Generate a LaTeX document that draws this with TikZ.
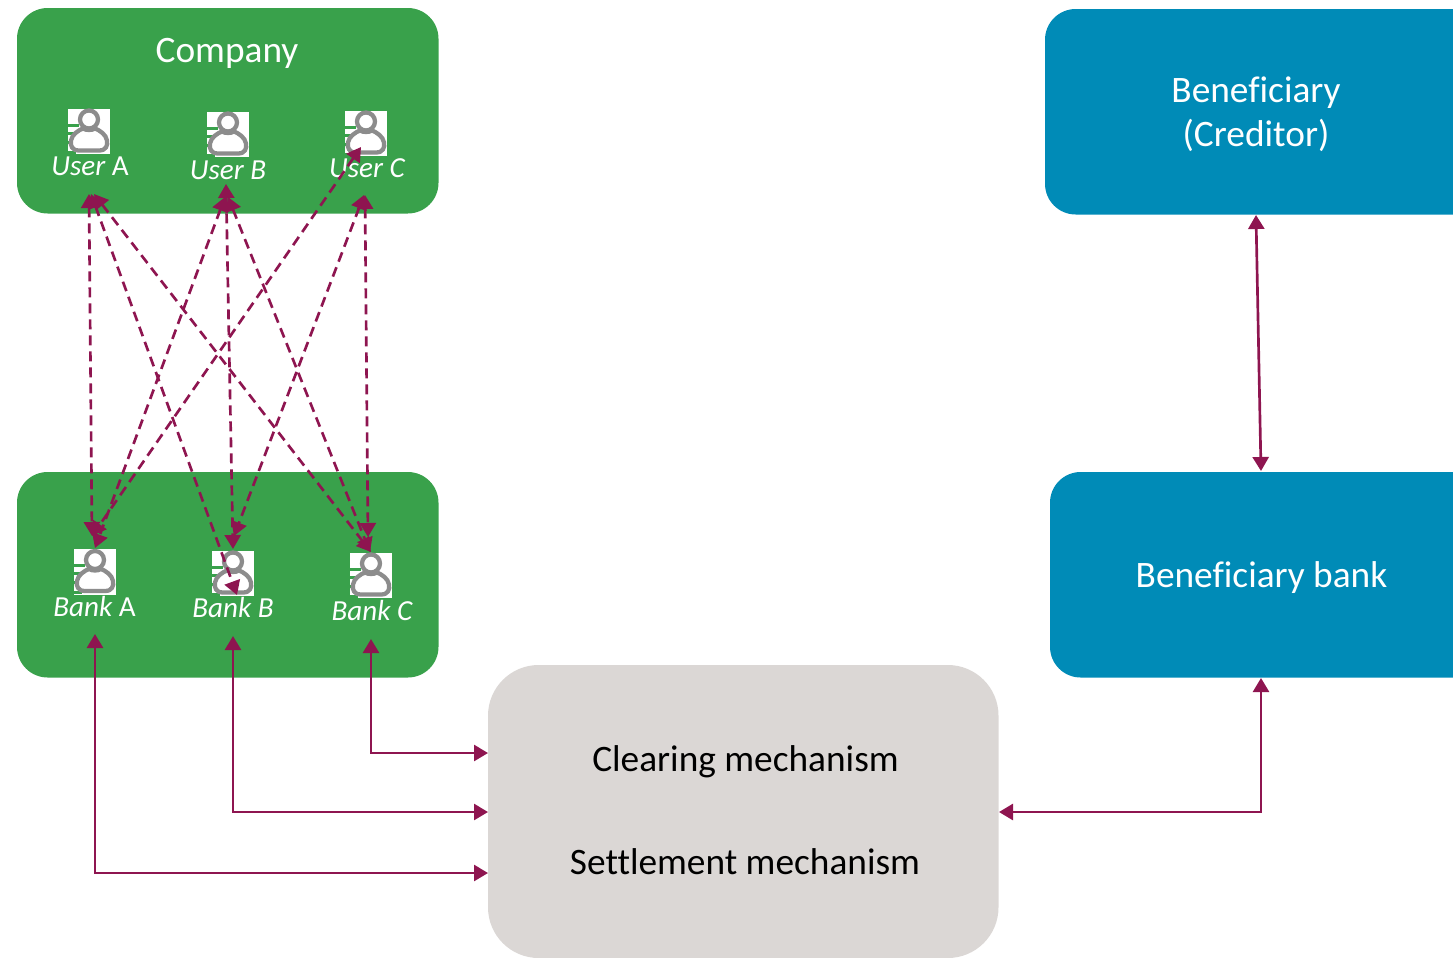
\documentclass[tikz,border=0pt]{standalone}
\usepackage{fontspec}
\setmainfont{Carlito}[Ligatures=NoCommon]
\usetikzlibrary{arrows.meta}
\definecolor{cgreen}{HTML}{39A14B}
\definecolor{cblue}{HTML}{008BB7}
\definecolor{cgrey}{HTML}{DBD7D5}
\definecolor{cline}{HTML}{8E1550}
\definecolor{cicon}{HTML}{8C8C8C}
\tikzset{
  x=0.75pt,y=-0.75pt,
  link/.style={draw=cline,line width=2pt,{Triangle[length=10.5pt,width=12pt]}-{Triangle[length=10.5pt,width=12pt]}},
  dlink/.style={link,dash pattern=on 7.5pt off 4.5pt,line width=2pt},
  iconbox/.style={fill=white,draw=none,minimum width=31.5pt,minimum height=34pt,inner sep=0pt,outer sep=0pt},
  role/.style={text=white,font=\fontsize{21.8}{26}\selectfont\itshape,inner sep=0pt},
  big/.style={font=\fontsize{28}{33}\selectfont,align=center,inner sep=0pt},
}
\newcommand{\personicon}[2]{%
  \node[iconbox] (#1) at (#2) {};
  \begin{scope}[shift={(#2)}]
    \fill[cgreen] (-21,-8) rectangle (-10,-5);
    \fill[cgreen] (-21,0) rectangle (-11,3);
    \fill[cgreen] (-21,9) rectangle (-16,12);
    \fill[cgreen] (-21,19) rectangle (-13,22);
    \draw[cicon,line width=3.2pt,fill=white] (0,-12) circle (9);
    \draw[cicon,line width=3.2pt,fill=white]
      (-10,19) .. controls (-17,19) and (-19,14) .. (-18,9)
      .. controls (-17,3) and (-11,-1) .. (-6,-3)
      .. controls (-3,-1) and (3,-1) .. (6,-3)
      .. controls (11,-1) and (17,3) .. (18,9)
      .. controls (19,14) and (17,19) .. (10,19) -- cycle;
  \end{scope}}
\begin{document}
\begin{tikzpicture}
\path[use as bounding box] (0,0) rectangle (1453,957);
\clip (0,0) rectangle (1453,957);
% blocks
\fill[cgreen,rounded corners=23pt] (17,8) rectangle (438.5,213.5);
\node[big,text=white] (company) at (227,53) {Company};
\fill[cgreen,rounded corners=23pt] (17,472) rectangle (438.5,677.5);
\fill[cblue,rounded corners=23pt] (1045,9) rectangle (1490,214.5);
\fill[cblue,rounded corners=23pt] (1050,472) rectangle (1490,677.5);
\fill[cgrey,rounded corners=38pt] (488,665) rectangle (998.5,958);
\node[big,text=white] (benef) at (1256,114) {Beneficiary\\(Creditor)};
\node[big,text=white] (benefbank) at (1261.5,578) {Beneficiary bank};
\node[big,text=black] (clearing) at (745.5,761.5) {Clearing mechanism};
\node[big,text=black] (settlement) at (745,862) {Settlement mechanism};
% icons
\personicon{iUA}{89,131.5}
\personicon{iUB}{228,134.5}
\personicon{iUC}{366,133.5}
\personicon{iBA}{95,572}
\personicon{iBB}{233,573.5}
\personicon{iBC}{371,575.5}
\node[role] (lUA) at (90,166) {User {\upshape A}};
\node[role] (lUB) at (228,170) {User B};
\node[role] (lUC) at (367,168) {User C};
\node[role] (lBA) at (94.5,606) {Bank {\upshape A}};
\node[role] (lBB) at (233,607) {Bank B};
\node[role] (lBC) at (372,610) {Bank C};
% anchor points of the connectors
\coordinate (uaA) at (89,194);
\coordinate (uaB) at (91,194);
\coordinate (uaC) at (94,194);
\coordinate (ubA) at (225,197);
\coordinate (ubB) at (226,184);
\coordinate (ubC) at (228,197);
\coordinate (ucA) at (361,147);
\coordinate (ucB) at (364,195);
\coordinate (ucC) at (365,195);
\coordinate (baA) at (92,536);
\coordinate (baB) at (95,548);
\coordinate (baC) at (92,536);
\coordinate (bbA) at (237,595);
\coordinate (bbB) at (233,549);
\coordinate (bbC) at (234,536);
\coordinate (bcA) at (371,552);
\coordinate (bcB) at (370,552);
\coordinate (bcC) at (368,537);
% dashed links
\draw[dlink] (uaA) -- (baA);
\draw[dlink] (uaB) -- (bbA);
\draw[dlink] (uaC) -- (bcA);
\draw[dlink] (ubA) -- (baB);
\draw[dlink] (ubB) -- (bbB);
\draw[dlink] (ubC) -- (bcB);
\draw[dlink] (ucA) -- (baC);
\draw[dlink] (ucB) -- (bbC);
\draw[dlink] (ucC) -- (bcC);
% solid links
\coordinate (grA) at (488,873);
\coordinate (grB) at (488,812);
\coordinate (grC) at (488,753);
\coordinate (grR) at (999,812);
\coordinate (bankA) at (95,634);
\coordinate (bankB) at (233,636);
\coordinate (bankC) at (371,639);
\coordinate (bbTop) at (1261,471);
\coordinate (bbBot) at (1261,678);
\coordinate (bTop) at (1256,215);
\draw[link] (bankA) |- (grA);
\draw[link] (bankB) |- (grB);
\draw[link] (bankC) |- (grC);
\draw[link] (grR) -| (bbBot);
\draw[link] (bTop) -- (bbTop);
\end{tikzpicture}
\end{document}
